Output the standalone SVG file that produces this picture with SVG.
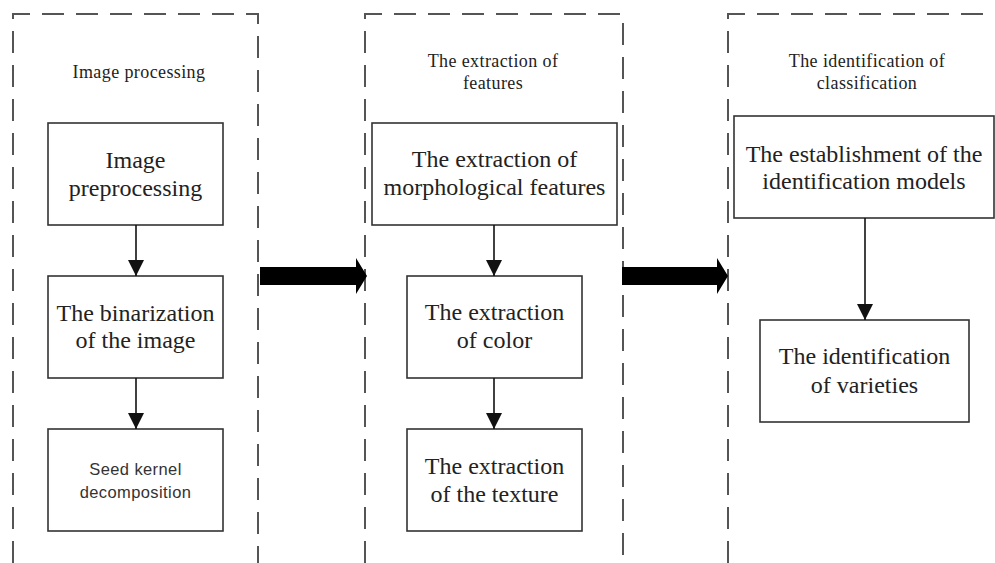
<svg xmlns="http://www.w3.org/2000/svg" width="995" height="563" viewBox="0 0 995 563">
<defs>
<style>
.lane{fill:none;stroke:#555;stroke-width:2;stroke-dasharray:22 12}
.box{fill:#fff;stroke:#333;stroke-width:1.6}
.t{font-family:"Liberation Serif","Times New Roman",serif;font-size:24px;fill:#222;text-anchor:middle}
.ttl{font-family:"Liberation Serif","Times New Roman",serif;font-size:18px;letter-spacing:0.4px;fill:#222;text-anchor:middle}
.s{font-family:"Liberation Sans",Arial,sans-serif;font-size:16.5px;letter-spacing:0.4px;fill:#333;text-anchor:middle}
.c{stroke:#111;stroke-width:1.6;fill:none}
.big{fill:#000}
</style>
<marker id="ah" viewBox="0 0 10 10" refX="10" refY="5" markerWidth="16" markerHeight="16" markerUnits="userSpaceOnUse" orient="auto">
<path d="M0,0 L10,5 L0,10 Z" fill="#111"/>
</marker>
</defs>
<rect width="995" height="563" fill="#fff"/>

<g id="lane1">
<path class="lane" d="M13,563 V14 H258 V563"/>
<text class="ttl" x="139" y="78">Image processing</text>
</g>
<g id="lane2">
<path class="lane" d="M365,563 V14 H623 V563"/>
<text class="ttl" x="493" y="67">The extraction of</text>
<text class="ttl" x="493" y="89">features</text>
</g>
<g id="lane3">
<path class="lane" d="M728,563 V14 H1000"/>
<text class="ttl" x="867" y="67">The identification of</text>
<text class="ttl" x="867" y="89">classification</text>
</g>

<g id="n1">
<rect class="box" x="48" y="123" width="175" height="102"/>
<text class="t" x="135.5" y="168">Image</text>
<text class="t" x="135.5" y="196">preprocessing</text>
</g>
<g id="n2">
<rect class="box" x="48" y="276" width="175" height="102"/>
<text class="t" x="135.5" y="321">The binarization</text>
<text class="t" x="135.5" y="348">of the image</text>
</g>
<g id="n3">
<rect class="box" x="48" y="429" width="175" height="102"/>
<text class="s" x="135.5" y="475">Seed kernel</text>
<text class="s" x="135.5" y="498">decomposition</text>
</g>

<g id="n4">
<rect class="box" x="372" y="123" width="245" height="102"/>
<text class="t" x="494.5" y="167">The extraction of</text>
<text class="t" x="494.5" y="195">morphological features</text>
</g>
<g id="n5">
<rect class="box" x="407" y="276" width="175" height="102"/>
<text class="t" x="494.5" y="320">The extraction</text>
<text class="t" x="494.5" y="348">of color</text>
</g>
<g id="n6">
<rect class="box" x="407" y="429" width="175" height="102"/>
<text class="t" x="494.5" y="474">The extraction</text>
<text class="t" x="494.5" y="502">of the texture</text>
</g>

<g id="n7">
<rect class="box" x="734" y="116" width="260" height="102"/>
<text class="t" x="864" y="162">The establishment of the</text>
<text class="t" x="864" y="189">identification models</text>
</g>
<g id="n8">
<rect class="box" x="760" y="320" width="209" height="102"/>
<text class="t" x="864.5" y="364">The identification</text>
<text class="t" x="864.5" y="393">of varieties</text>
</g>

<g id="connectors">
<line class="c" x1="136" y1="225" x2="136" y2="276" marker-end="url(#ah)"/>
<line class="c" x1="136" y1="378" x2="136" y2="429" marker-end="url(#ah)"/>
<line class="c" x1="494" y1="225" x2="494" y2="276" marker-end="url(#ah)"/>
<line class="c" x1="494" y1="378" x2="494" y2="429" marker-end="url(#ah)"/>
<line class="c" x1="865" y1="218" x2="865" y2="320" marker-end="url(#ah)"/>
<path class="big" d="M260,267 H356 V258 L367,276 L356,294 V285 H260 Z"/>
<path class="big" d="M622,267 H717 V258 L728,276 L717,294 V285 H622 Z"/>
</g>
</svg>
